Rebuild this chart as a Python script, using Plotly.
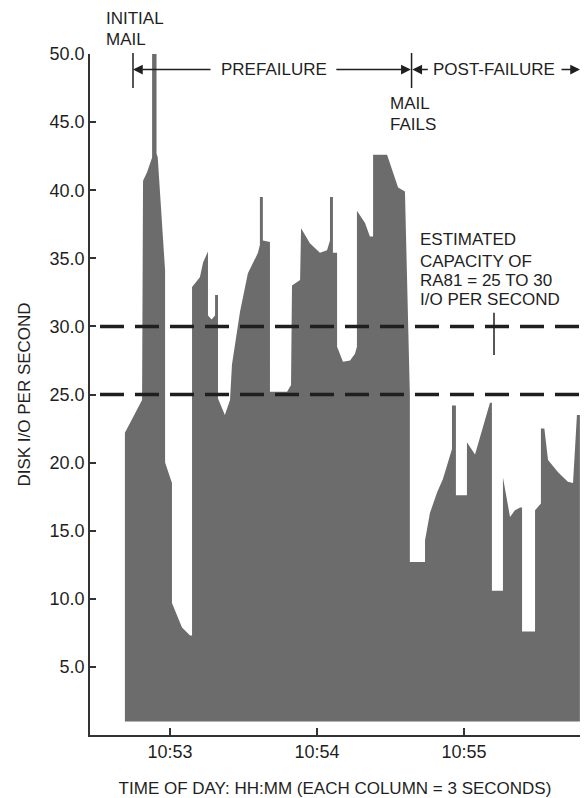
import pandas as pd
import plotly.graph_objects as go

# ---- data -------------------------------------------------------------
# Outline of the disk I/O rate profile: seconds after 10:53:00 and the
# sampled I/O-per-second value at each outline vertex.
seconds = [
    -18.4, -11.4, -11.0, -9.4, -7.8, -7.3, -7.3, -5.5, -5.5, -5.0, -2.0, -2.0,
    0.8, 0.8, 4.9, 8.2, 9.0, 9.0, 12.2, 13.5, 15.5, 15.5, 17.0, 18.4, 18.4,
    19.6, 19.6, 22.4, 24.5, 25.3, 28.6, 31.8, 35.9, 36.7, 36.7, 37.9, 37.9,
    40.8, 40.8, 47.8, 49.4, 49.8, 53.1, 53.5, 57.1, 61.2, 64.1, 65.3, 65.3,
    66.5, 66.5, 68.2, 68.2, 70.6, 73.5, 75.5, 76.3, 76.3, 79.6, 81.6, 82.9,
    82.9, 88.6, 93.1, 95.9, 97.9, 97.9, 104.1, 104.1, 106.1, 109.0, 111.4,
    113.1, 115.1, 115.1, 116.7, 116.7, 121.2, 121.2, 124.5, 130.6, 131.4,
    131.4, 135.9, 135.9, 138.8, 140.8, 142.9, 143.7, 143.7, 149.0, 149.0,
    151.4, 151.4, 152.8, 154.3, 158.4, 162.4, 164.5, 166.1, 167.3,
]
io_rate = [
    22.2, 24.6, 40.7, 41.3, 42.1, 42.4, 50.0, 50.0, 42.7, 42.4, 34.1, 20.0,
    18.5, 9.7, 7.9, 7.3, 7.3, 32.9, 33.6, 34.7, 35.5, 30.8, 30.5, 30.8, 32.3,
    32.3, 24.7, 23.5, 24.6, 27.2, 31.1, 33.9, 35.4, 36.0, 39.5, 39.5, 36.3,
    36.2, 25.2, 25.2, 25.7, 33.0, 33.4, 37.2, 36.1, 35.4, 35.6, 36.3, 39.5,
    39.5, 35.4, 35.4, 28.5, 27.4, 27.5, 28.0, 28.5, 38.5, 37.6, 36.6, 36.6,
    42.6, 42.6, 40.2, 39.9, 25.0, 12.7, 12.7, 14.3, 16.3, 17.8, 18.8,
    19.8, 21.0, 24.2, 24.2, 17.6, 17.6, 21.5, 20.6, 24.4, 24.4,
    10.6, 10.6, 18.9, 16.0, 16.5, 16.7, 16.7, 7.6, 7.6, 16.5,
    17.0, 22.5, 22.5, 20.2, 19.3, 18.6, 18.5, 23.5, 23.5,
]
assert len(seconds) == len(io_rate)

FLOOR = 1.0                      # columns are drawn up from this level
capacity_bounds = [25.0, 30.0]   # estimated RA81 capacity, I/O per second
initial_mail_s = -15.1           # initial mail event
mail_fails_s = 98.6              # mail failure event
x_range_s = [-32.65, 167.35]
y_tick_vals = [5, 10, 15, 20, 25, 30, 35, 40, 45, 50]
x_tick_minutes = ["10:53", "10:54", "10:55"]

# ---- helpers ----------------------------------------------------------
DAY = "1986-01-01"
T0 = pd.Timestamp(f"{DAY} 10:53:00")


def at(sec):
    return (T0 + pd.Timedelta(seconds=sec)).strftime("%Y-%m-%d %H:%M:%S.%f")


INK = "#1f1f1f"
FONT = "Liberation Sans, Arial, Helvetica, sans-serif"

xs = [at(seconds[0])] + [at(s) for s in seconds] + [at(seconds[-1])]
ys = [FLOOR] + io_rate + [FLOOR]

fig = go.Figure()
fig.add_trace(go.Scatter(
    x=xs, y=ys, mode="lines", fill="toself",
    fillcolor="#6c6c6c", line=dict(width=0, color="#6c6c6c"),
    hoverinfo="skip",
))

# capacity band limits
for lvl in capacity_bounds:
    fig.add_shape(type="line", xref="paper", yref="y",
                  x0=0.0204, x1=1.0, y0=lvl, y1=lvl,
                  line=dict(color=INK, width=3.5, dash="24px,11px"),
                  layer="above")

# event markers above the plot
for ev in (initial_mail_s, mail_fails_s):
    fig.add_shape(type="line", xref="x", yref="paper",
                  x0=at(ev), x1=at(ev), y0=0.950, y1=1.0015,
                  line=dict(color=INK, width=1.5))

# pointer from the capacity note to the 30 line
fig.add_shape(type="line", xref="paper", yref="y",
              x0=0.8245, x1=0.8245, y0=27.9, y1=31.0,
              line=dict(color=INK, width=1.5))

ARROW_Y = 0.9772


def arrow(tip_s, dx_px):
    fig.add_annotation(x=at(tip_s), y=ARROW_Y, xref="x", yref="paper",
                       ax=dx_px, ay=0, text="", showarrow=True,
                       arrowhead=2, arrowsize=1.3, arrowwidth=1.5,
                       arrowcolor=INK)


arrow(initial_mail_s, 79)
arrow(mail_fails_s - 0.3, -76)
arrow(mail_fails_s + 0.3, 17)
arrow(x_range_s[1], -20)


def label(text, x, y, anchor="left", size=17):
    fig.add_annotation(text=text, x=x, y=y, xref="paper", yref="paper",
                       xanchor=anchor, yanchor="middle", showarrow=False,
                       align="left", font=dict(size=size, color=INK, family=FONT))


label("INITIAL", 0.0286, 1.0522)
label("MAIL", 0.0286, 1.022)
label("PREFAILURE", 0.3745, ARROW_Y, anchor="center")
label("POST-FAILURE", 0.8245, ARROW_Y, anchor="center")
label("MAIL", 0.608, 0.9266)
label("FAILS", 0.608, 0.8972)
label("ESTIMATED", 0.669, 0.7283)
label("CAPACITY OF", 0.669, 0.696)
label("RA81 = 25 TO 30", 0.669, 0.6667)
label("I/O PER SECOND", 0.669, 0.6388)

fig.update_layout(
    width=585, height=798,
    margin=dict(l=90, r=5, t=54, b=63),
    paper_bgcolor="white", plot_bgcolor="white",
    showlegend=False,
    font=dict(family=FONT, size=17, color=INK),
    xaxis=dict(
        type="date", range=[at(x_range_s[0]), at(x_range_s[1])],
        tickvals=[f"{DAY} {m}:00" for m in x_tick_minutes],
        ticktext=x_tick_minutes,
        ticks="inside", ticklen=7, tickwidth=1.5, tickcolor="#333",
        showline=True, linecolor="#333", linewidth=1.5,
        showgrid=False, zeroline=False, automargin=False,
        tickfont=dict(size=18),
        title=dict(text="TIME OF DAY: HH:MM (EACH COLUMN = 3 SECONDS)",
                   font=dict(size=17), standoff=22),
    ),
    yaxis=dict(
        range=[0, 50],
        tickvals=y_tick_vals,
        ticktext=[f"{v:.1f}" for v in y_tick_vals],
        ticks="inside", ticklen=6, tickwidth=1.5, tickcolor="#333",
        showline=True, linecolor="#333", linewidth=1.5,
        showgrid=False, zeroline=False, automargin=False,
        tickfont=dict(size=18),
        title=dict(text="DISK I/O PER SECOND", font=dict(size=17), standoff=15),
    ),
)

fig.write_html("out.html")
